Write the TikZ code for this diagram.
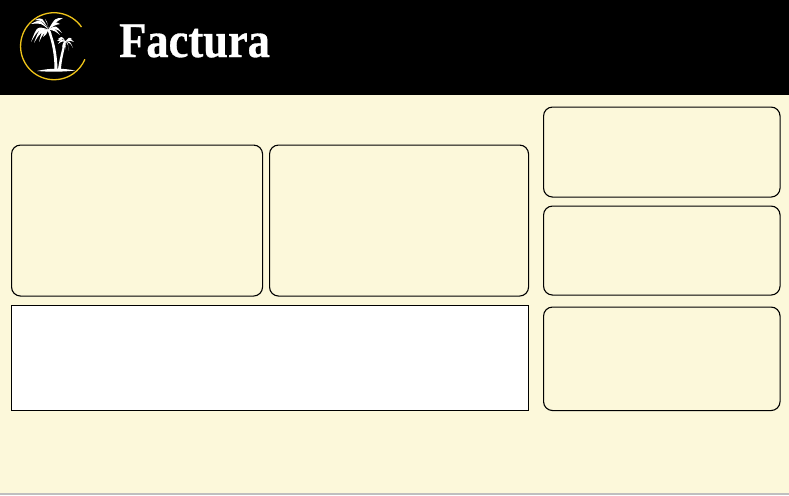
\documentclass[tikz,border=0pt]{standalone}
\usepackage{fontspec}
\setmainfont{Liberation Serif}
\usetikzlibrary{calc}
\definecolor{cream}{HTML}{FCF8DA}
\definecolor{gold}{HTML}{EFC419}
\tikzset{panel/.style = {draw, rounded corners = 9pt, line width = 1.1pt, fill = cream, anchor = north west, inner sep = 0},
         plain/.style = {draw, line width = 1.1pt, fill = white, anchor = north west, inner sep = 0},
         frond/.style = {fill = white, draw = none}
        }

\begin{document}
\begin{tikzpicture}[x=1pt,y=-1pt]
\useasboundingbox (0,0) rectangle (789,495);
\fill[cream] (0,0) rectangle (789,495);
\fill[black] (0,0) rectangle (789,95);
\fill[black!25] (0,493) rectangle (789,495);
% logo
\draw[gold, line width = 1.3pt] (81.5,27) arc (-35:-337:33.5);
\fill[white] (37,71) .. controls (50,68) and (62,68) .. (75,70.5) .. controls (62,72) and (50,72) .. (37,71) -- cycle;
\fill[white] (47.5,30) .. controls (52,42) and (54.5,55) .. (54.5,69) -- (57.5,69) .. controls (57,52) and (54,40) .. (49.5,29) -- cycle;
\fill[white] (58,69) .. controls (59.5,60) and (61.5,50) .. (64.5,41) -- (66,41) .. controls (64,52) and (61.5,60) .. (61,69) -- cycle;
\foreach \tx/\ty/\cx/\cy in {31/24/40/19, 35/20/42/17, 45/19/47/21, 63/18/55/18, 60/24/54/21, 62/33/56/25, 60/35/54/27, 52/38/51/31,
                             31/42/37/26, 34/43/39/29, 39/42/42/30, 43/37/45/31} {
  \fill[frond] (48.5,29.5) .. controls (\cx,\cy) .. (\tx,\ty) .. controls ($(\cx,\cy)+(1,4)$) .. cycle;
}
\foreach \tx/\ty/\cx/\cy in {57/41/60/38, 58/44/61/39, 62/48/63/42, 66/50/65/44, 69/51/68/43, 73/48/70/41, 74/42/70/38, 72/39/69/37, 58/39/62/36} {
  \fill[frond] (65.5,41.5) .. controls (\cx,\cy) .. (\tx,\ty) .. controls ($(\cx,\cy)+(0.5,2.5)$) .. cycle;
}
\node[white, font = \bfseries\fontsize{50}{50}\selectfont, anchor = base west, inner sep = 0] (title) at (119,57) {\addfontfeature{FakeStretch=0.89,FakeBold=0.6}Factura};
% panels
\node[panel, minimum width = 251pt, minimum height = 151pt] (boxa) at (11,144.5) {};
\node[panel, minimum width = 259pt, minimum height = 151pt] (boxb) at (269,144.5) {};
\node[plain, minimum width = 517pt, minimum height = 105pt] (boxc) at (11,304.5) {};
\node[panel, minimum width = 236.5pt, minimum height = 90pt] (boxd) at (543,106.5) {};
\node[panel, minimum width = 236.5pt, minimum height = 89pt] (boxe) at (543,205.5) {};
\node[panel, minimum width = 236.5pt, minimum height = 103.5pt] (boxf) at (543,306.5) {};
\end{tikzpicture}
\end{document}
